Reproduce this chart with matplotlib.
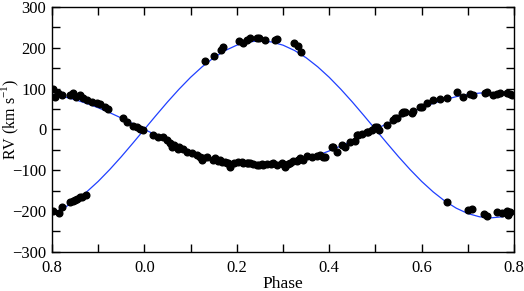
import matplotlib
matplotlib.use("Agg")
import matplotlib.pyplot as plt
from matplotlib.ticker import MultipleLocator, FuncFormatter

# orbital solution (phase -0.2 .. 0.8 in steps of 0.025)
model_phase = [-0.2 + 0.025 * i for i in range(41)]
model_primary = [-206.4, -193.3, -175.6, -153.4, -127.6, -98.5, -67.1, -33.9, 0.0,
                 33.9, 67.1, 98.5, 127.6, 153.4, 175.6, 193.3, 206.4, 214.3, 217.0,
                 214.3, 206.4, 193.3, 175.6, 153.4, 127.6, 98.5, 67.1, 33.9, 0.0,
                 -33.9, -67.1, -98.5, -127.6, -153.4, -175.6, -193.3, -206.4, -214.3,
                 -217.0, -214.3, -206.4]
model_secondary = [85.6, 80.2, 72.8, 63.6, 52.9, 40.9, 27.8, 14.0, 0.0,
                   -14.0, -27.8, -40.9, -52.9, -63.6, -72.8, -80.2, -85.6, -88.9, -90.0,
                   -88.9, -85.6, -80.2, -72.8, -63.6, -52.9, -40.9, -27.8, -14.0, 0.0,
                   14.0, 27.8, 40.9, 52.9, 63.6, 72.8, 80.2, 85.6, 88.9,
                   90.0, 88.9, 85.6]

# measured velocities, primary star
prim_phase = [-0.197, -0.185, -0.178, -0.161, -0.155, -0.150, -0.145, -0.139, -0.134, -0.126,
              0.131, 0.151, 0.165, 0.171, 0.205, 0.214, 0.221, 0.229, 0.247, 0.262,
              0.243, 0.288, 0.283, 0.324, 0.333, 0.340,
              0.654, 0.701, 0.708, 0.734, 0.741, 0.763, 0.773, 0.784, 0.788, 0.791]
prim_rv = [-199, -204, -190, -178, -176, -173, -171, -167, -165, -161,
           167, 180, 194, 202, 216, 211, 219, 225, 223, 219,
           225, 221, 220, 211, 205, 190,
           -179, -198, -195, -208, -212, -202, -204, -200, -210, -202]

# measured velocities, secondary star
sec_phase = [-0.197, -0.194, -0.186, -0.179, -0.161, -0.154, -0.148, -0.139, -0.132, -0.125,
             -0.114, -0.103, -0.096, -0.085, -0.078, -0.046, -0.038, -0.024, -0.017, -0.010,
             -0.002, 0.019, 0.030, 0.041, 0.048, 0.056, 0.063, 0.074, 0.084, 0.059,
             0.073, 0.092, 0.102, 0.113, 0.120, 0.127, 0.135, 0.149, 0.160, 0.167,
             0.178, 0.186, 0.193, 0.203, 0.214, 0.225, 0.236, 0.247, 0.257, 0.265,
             0.124, 0.153, 0.164, 0.174, 0.182, 0.185, 0.211, 0.221, 0.229, 0.243,
             0.254, 0.275, 0.286, 0.301, 0.304, 0.315, 0.322, 0.333, 0.279, 0.297,
             0.311, 0.330, 0.337, 0.344, 0.351, 0.362, 0.373, 0.381, 0.391, 0.405,
             0.416, 0.427, 0.434, 0.445, 0.456, 0.387, 0.409, 0.463, 0.470, 0.485,
             0.492, 0.503, 0.507, 0.525, 0.539, 0.546, 0.557, 0.564, 0.582, 0.460,
             0.481, 0.499, 0.542, 0.560, 0.579, 0.597, 0.611, 0.625, 0.640, 0.654,
             0.676, 0.690, 0.712, 0.741, 0.763, 0.784, 0.795, 0.600, 0.705, 0.738,
             0.755, 0.770, 0.791]
sec_rv = [100, 80, 88, 84, 84, 88, 80, 84, 76, 72,
          68, 64, 61, 55, 51, 27, 19, 8, 6, 2,
          -2, -14, -18, -18, -26, -34, -38, -43, -47, -44,
          -47, -55, -59, -63, -67, -71, -69, -74, -77, -79,
          -82, -88, -83, -79, -82, -83, -85, -88, -88, -85,
          -75, -71, -75, -79, -83, -92, -79, -82, -83, -88,
          -85, -85, -88, -85, -92, -82, -77, -75, -83, -83,
          -85, -77, -71, -75, -65, -69, -65, -63, -67, -43,
          -55, -38, -43, -30, -29, -67, -43, -14, -12, -6,
          -2, 5, -2, 11, 23, 27, 39, 43, 45, -14,
          -6, 6, 27, 43, 39, 55, 64, 72, 74, 76,
          92, 80, 84, 92, 87, 88, 84, 55, 87, 90,
          84, 88, 87]

plt.rcParams['font.family'] = ['Liberation Serif', 'DejaVu Serif']
plt.rcParams['mathtext.fontset'] = 'custom'
plt.rcParams['mathtext.rm'] = 'Liberation Serif'

fig = plt.figure(figsize=(5.24, 2.91), dpi=100)
ax = fig.add_axes([0.0992, 0.135, 0.8818, 0.841])

ax.plot(model_phase, model_primary, color='#2040ff', lw=0.9, zorder=1)
ax.plot(model_phase, model_secondary, color='#2040ff', lw=0.9, zorder=1)
ax.plot(prim_phase, prim_rv, 'o', color='black', ms=4.8, mec='black', zorder=2)
ax.plot(sec_phase, sec_rv, 'o', color='black', ms=4.8, mec='black', zorder=2)

ax.set_xlim(-0.2, 0.8)
ax.set_ylim(-300, 300)
ax.xaxis.set_major_locator(MultipleLocator(0.2))
ax.xaxis.set_minor_locator(MultipleLocator(0.1))
ax.yaxis.set_major_locator(MultipleLocator(100))
ax.yaxis.set_minor_locator(MultipleLocator(50))
ax.xaxis.set_major_formatter(FuncFormatter(lambda v, _: "%.1f" % (round(v, 3) % 1)))

ax.tick_params(which='both', direction='in', top=True, right=True,
               length=5.5, width=1, labelsize=12)
ax.tick_params(axis='x', pad=6)
ax.tick_params(axis='y', pad=4)
for s in ax.spines.values():
    s.set_linewidth(1)

ax.set_xlabel('Phase', fontsize=12.5, labelpad=0)
ax.set_ylabel('RV (km s$^{\\mathregular{-1}}$)', fontsize=11.5)
ax.yaxis.set_label_coords(-0.067, 0.54)

fig.savefig('out.png', dpi=100)
